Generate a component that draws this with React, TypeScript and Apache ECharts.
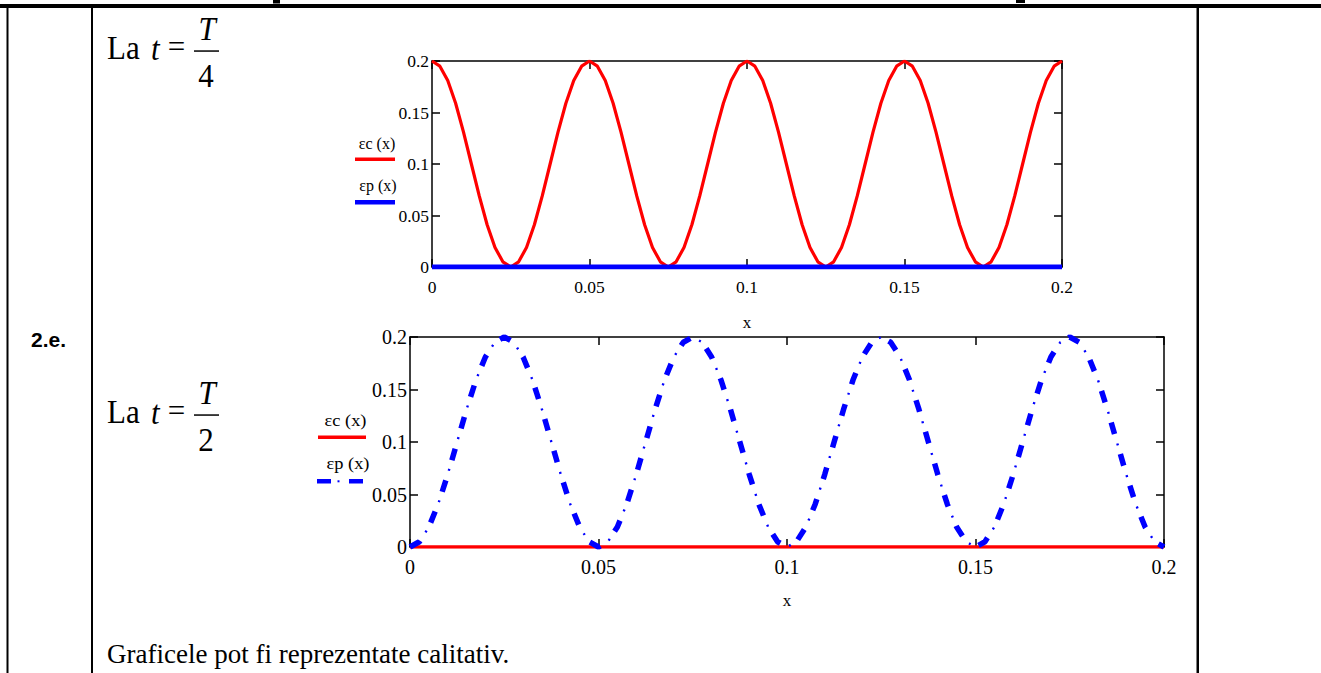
import React, { useEffect, useRef } from "react";
import * as echarts from "echarts";

// ---------- data ----------
const xTicks = [0, 0.05, 0.1, 0.15, 0.2];
const yTicks = [0, 0.05, 0.1, 0.15, 0.2];

// sample positions along x (m)
const xs = [
  0, 0.0025, 0.005, 0.0075, 0.01, 0.0125, 0.015, 0.0175, 0.02, 0.0225,
  0.025, 0.0275, 0.03, 0.0325, 0.035, 0.0375, 0.04, 0.0425, 0.045, 0.0475,
  0.05, 0.0525, 0.055, 0.0575, 0.06, 0.0625, 0.065, 0.0675, 0.07, 0.0725,
  0.075, 0.0775, 0.08, 0.0825, 0.085, 0.0875, 0.09, 0.0925, 0.095, 0.0975,
  0.1, 0.1025, 0.105, 0.1075, 0.11, 0.1125, 0.115, 0.1175, 0.12, 0.1225,
  0.125, 0.1275, 0.13, 0.1325, 0.135, 0.1375, 0.14, 0.1425, 0.145, 0.1475,
  0.15, 0.1525, 0.155, 0.1575, 0.16, 0.1625, 0.165, 0.1675, 0.17, 0.1725,
  0.175, 0.1775, 0.18, 0.1825, 0.185, 0.1875, 0.19, 0.1925, 0.195, 0.1975,
  0.2,
];

// t = T/4 : εc(x)
const ecQuarter = [
  0.2, 0.195, 0.181, 0.159, 0.131, 0.1, 0.069, 0.041, 0.019, 0.005,
  0, 0.005, 0.019, 0.041, 0.069, 0.1, 0.131, 0.159, 0.181, 0.195,
  0.2, 0.195, 0.181, 0.159, 0.131, 0.1, 0.069, 0.041, 0.019, 0.005,
  0, 0.005, 0.019, 0.041, 0.069, 0.1, 0.131, 0.159, 0.181, 0.195,
  0.2, 0.195, 0.181, 0.159, 0.131, 0.1, 0.069, 0.041, 0.019, 0.005,
  0, 0.005, 0.019, 0.041, 0.069, 0.1, 0.131, 0.159, 0.181, 0.195,
  0.2, 0.195, 0.181, 0.159, 0.131, 0.1, 0.069, 0.041, 0.019, 0.005,
  0, 0.005, 0.019, 0.041, 0.069, 0.1, 0.131, 0.159, 0.181, 0.195,
  0.2,
];

// t = T/2 : εp(x)
const epHalf = [
  0, 0.005, 0.019, 0.041, 0.069, 0.1, 0.131, 0.159, 0.181, 0.195,
  0.2, 0.195, 0.181, 0.159, 0.131, 0.1, 0.069, 0.041, 0.019, 0.005,
  0, 0.005, 0.019, 0.041, 0.069, 0.1, 0.131, 0.159, 0.181, 0.195,
  0.2, 0.195, 0.181, 0.159, 0.131, 0.1, 0.069, 0.041, 0.019, 0.005,
  0, 0.005, 0.019, 0.041, 0.069, 0.1, 0.131, 0.159, 0.181, 0.195,
  0.2, 0.195, 0.181, 0.159, 0.131, 0.1, 0.069, 0.041, 0.019, 0.005,
  0, 0.005, 0.019, 0.041, 0.069, 0.1, 0.131, 0.159, 0.181, 0.195,
  0.2, 0.195, 0.181, 0.159, 0.131, 0.1, 0.069, 0.041, 0.019, 0.005,
  0,
];

// the zero curves (εp at T/4, εc at T/2)
const zeroX = [0, 0.2];
const zeroY = [0, 0];

const legendNames = ["εc (x)", "εp (x)"];
const formulaDen = ["4", "2"];

// ---------- styling ----------
const SERIF = "'Liberation Serif', 'Times New Roman', serif";
const SANS = "'Liberation Sans', Arial, sans-serif";
const RED = "#ff0000";
const BLUE = "#0000ff";

const pairs = (x: number[], y: number[]) => x.map((v, i) => [v, y[i]]);

function txt(
  text: string,
  x: number,
  y: number,
  size: number,
  o: { align?: string; italic?: boolean; bold?: boolean; family?: string; sx?: number; sy?: number } = {}
) {
  const font = `${o.italic ? "italic " : ""}${o.bold ? "bold " : ""}${size}px ${o.family || SERIF}`;
  const align = o.align || "left";
  return {
    type: "text",
    x,
    y,
    scaleX: o.sx || 1,
    scaleY: o.sy || 1,
    silent: true,
    style: {
      text,
      font,
      fill: "#000",
      textAlign: align,
      textVerticalAlign: "middle",
      align,
      verticalAlign: "middle",
    },
  };
}

function rect(x: number, y: number, w: number, h: number, fill = "#000") {
  return { type: "rect", silent: true, shape: { x, y, width: w, height: h }, style: { fill } };
}

function formula(dy: number, den: string) {
  return [
    txt("La", 107, 48 + dy, 31, { sy: 1.08 }),
    txt("t", 151, 49 + dy, 31, { italic: true, sy: 1.08 }),
    txt("=", 176.5, 46.5 + dy, 31, { align: "center" }),
    txt("T", 207, 29 + dy, 31, { italic: true, align: "center", sy: 1.08 }),
    rect(194, 50.3 + dy, 25, 1.5),
    txt(den, 206, 76 + dy, 31, { align: "center", sy: 1.08 }),
  ];
}

function axesFor(gi: number, labelSize: number, nameGap: number, xMargin: number) {
  const lineStyle = { color: "#000", width: 1.5 };
  const tick = { inside: true, length: 8, lineStyle: { color: "#000", width: 1.5 } };
  const common = {
    gridIndex: gi,
    type: "value",
    min: 0,
    max: 0.2,
    interval: 0.05,
    splitLine: { show: false },
    axisLine: { show: true, onZero: false, lineStyle },
    axisTick: tick,
  };
  const x = [
    {
      ...common,
      position: "bottom",
      axisLabel: { margin: xMargin, fontSize: labelSize, fontFamily: SERIF, color: "#000" },
      name: "x",
      nameLocation: "middle",
      nameGap,
      nameTextStyle: { fontSize: 17, fontFamily: SERIF, color: "#000" },
    },
    { ...common, position: "top", axisLabel: { show: false } },
  ];
  const y = [
    {
      ...common,
      position: "left",
      axisLabel: {
        margin: 3,
        fontSize: labelSize,
        fontFamily: SERIF,
        color: "#000",
        padding: [5, 0, 0, 0],
      },
    },
    { ...common, position: "right", axisLabel: { show: false } },
  ];
  return { x, y };
}

export default function App() {
  const ref = useRef<HTMLDivElement>(null);

  useEffect(() => {
    if (!ref.current) return;
    const chart = echarts.init(ref.current, undefined, { renderer: "svg" });

    const a1 = axesFor(0, 17.5, 47, 11);
    const a2 = axesFor(1, 20, 45, 10);

    const graphic: any[] = [
      // table rules
      rect(0, 4, 1321, 4),
      rect(6.5, 8, 2, 665),
      rect(91, 8, 2, 665),
      rect(1196.5, 8, 2.5, 665),
      rect(273, 0, 7, 3.5),
      rect(1016, 0, 9, 3),
      // row label
      txt("2.e.", 31, 339.5, 21, { bold: true, family: SANS }),
      // formulas
      ...formula(0, formulaDen[0]),
      ...formula(364, formulaDen[1]),
      // legend of chart 1
      txt(legendNames[0], 377, 143, 16, { align: "center", sy: 1.1 }),
      rect(355, 157.5, 40, 3.5, RED),
      txt(legendNames[1], 378, 185, 16, { align: "center", sy: 1.1 }),
      rect(355, 200, 40, 4.5, BLUE),
      // legend of chart 2
      txt(legendNames[0], 345.5, 420, 16, { align: "center", sx: 1.15, sy: 1.1 }),
      rect(318, 435.5, 48, 3.5, RED),
      txt(legendNames[1], 348, 463, 16, { align: "center", sx: 1.15, sy: 1.1 }),
      rect(317, 479, 14, 4.5, BLUE),
      rect(337.5, 480.3, 2, 2, BLUE),
      rect(349, 479, 14, 4.5, BLUE),
      // footer
      txt("Graficele pot fi reprezentate calitativ.", 107, 653.5, 27),
    ];

    chart.setOption({
      animation: false,
      backgroundColor: "#fff",
      grid: [
        { left: 432, top: 61, width: 630, height: 206 },
        { left: 410, top: 337, width: 754, height: 210 },
      ],
      xAxis: [...a1.x, ...a2.x],
      yAxis: [...a1.y, ...a2.y],
      series: [
        {
          name: legendNames[0],
          type: "line",
          xAxisIndex: 0,
          yAxisIndex: 0,
          data: pairs(xs, ecQuarter),
          symbol: "none",
          lineStyle: { color: RED, width: 3.2 },
          z: 3,
        },
        {
          name: legendNames[1],
          type: "line",
          xAxisIndex: 0,
          yAxisIndex: 0,
          data: pairs(zeroX, zeroY),
          symbol: "none",
          lineStyle: { color: BLUE, width: 5 },
          z: 4,
        },
        {
          name: legendNames[0],
          type: "line",
          xAxisIndex: 2,
          yAxisIndex: 2,
          data: pairs(zeroX, zeroY),
          symbol: "none",
          lineStyle: { color: RED, width: 3.7 },
          z: 3,
        },
        {
          name: legendNames[1],
          type: "line",
          xAxisIndex: 2,
          yAxisIndex: 2,
          data: pairs(xs, epHalf),
          symbol: "none",
          lineStyle: { color: BLUE, width: 5.5, type: [12, 21], dashOffset: 0, cap: "butt" },
          z: 4,
        },
        {
          name: legendNames[1] + " ·",
          type: "line",
          xAxisIndex: 2,
          yAxisIndex: 2,
          data: pairs(xs, epHalf),
          symbol: "none",
          lineStyle: { color: BLUE, width: 2.4, type: [2, 31], dashOffset: 10.5, cap: "butt" },
          z: 4,
        },
      ],
      graphic,
    });

    return () => chart.dispose();
  }, []);

  return (
    <div
      ref={ref}
      style={{ position: "fixed", left: 0, top: 0, width: 1321, height: 673, background: "#fff" }}
    />
  );
}
